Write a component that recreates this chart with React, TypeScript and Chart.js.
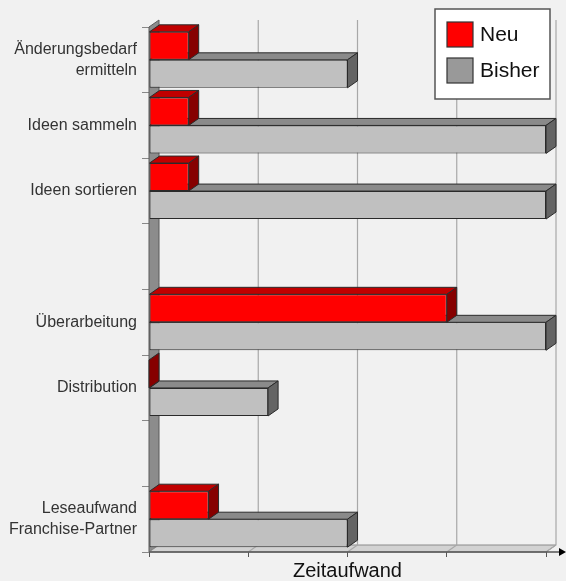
import React, { useEffect, useRef } from "react";
import { Chart, registerables } from "chart.js";

Chart.register(...registerables);

const categories: (string | string[])[] = [
  ["Änderungsbedarf", "ermitteln"],
  "Ideen sammeln",
  "Ideen sortieren",
  "",
  "Überarbeitung",
  "Distribution",
  "",
  ["Leseaufwand", "Franchise-Partner"],
];
const neuValues: (number | null)[] = [0.4, 0.4, 0.4, null, 3.0, 0, null, 0.6];
const bisherValues: (number | null)[] = [2.0, 4.0, 4.0, null, 4.0, 1.2, null, 2.0];
const seriesLabels = ["Neu", "Bisher"];
const axisTitle = "Zeitaufwand";
const xMin = 0;
const xMax = 4;

const FONT = "'Liberation Sans', Arial, sans-serif";
const DX = 10;
const DY = 7;

const frontColors = ["#ff0000", "#c0c0c0"];
const topColors = ["#c00000", "#8a8a8a"];
const sideColors = ["#860000", "#646464"];
const legendColors = ["#ff0000", "#999999"];

function poly(ctx: CanvasRenderingContext2D, pts: number[][], fill: string, stroke: string, lw = 1) {
  ctx.beginPath();
  ctx.moveTo(pts[0][0], pts[0][1]);
  for (let i = 1; i < pts.length; i++) ctx.lineTo(pts[i][0], pts[i][1]);
  ctx.closePath();
  ctx.fillStyle = fill;
  ctx.fill();
  ctx.lineWidth = lw;
  ctx.strokeStyle = stroke;
  ctx.stroke();
}

const threeD = {
  id: "threeD",
  beforeDatasetsDraw(chart: any) {
    const ctx: CanvasRenderingContext2D = chart.ctx;
    const { left, right, top, bottom } = chart.chartArea;
    const xs = chart.scales.x;
    ctx.save();
    // left wall
    poly(ctx, [[left, top], [left + DX, top - DY], [left + DX, bottom - DY], [left, bottom]], "#8c8c8c", "#5a5a5a");
    // floor
    poly(ctx, [[left, bottom], [left + DX, bottom - DY], [right + DX, bottom - DY], [right, bottom]], "#d2d2d2", "#8a8a8a");
    // back-wall grid lines
    ctx.strokeStyle = "#a8a8a8";
    ctx.lineWidth = 1.2;
    for (let v = xMin + 1; v <= xMax; v++) {
      const x = xs.getPixelForValue(v);
      ctx.beginPath();
      ctx.moveTo(x + DX, top - DY);
      ctx.lineTo(x + DX, bottom - DY);
      ctx.lineTo(x, bottom);
      ctx.stroke();
    }
    // floor front line & arrow
    ctx.strokeStyle = "#555";
    ctx.lineWidth = 1.5;
    ctx.beginPath();
    ctx.moveTo(left, bottom);
    ctx.lineTo(chart.width - 2, bottom);
    ctx.stroke();
    ctx.fillStyle = "#000";
    ctx.beginPath();
    ctx.moveTo(chart.width - 7, bottom - 4);
    ctx.lineTo(chart.width, bottom);
    ctx.lineTo(chart.width - 7, bottom + 4);
    ctx.closePath();
    ctx.fill();
    // bar depth faces: Bisher first, then Neu
    for (const di of [1, 0]) {
      const meta = chart.getDatasetMeta(di);
      meta.data.forEach((bar: any, i: number) => {
        const val = chart.data.datasets[di].data[i];
        if (val === null || val === undefined) return;
        const p = bar.getProps(["x", "y", "base", "height"], true);
        const t = p.y - p.height / 2;
        const b = p.y + p.height / 2;
        const x0 = p.base;
        const x1 = p.x;
        if (x1 - x0 > 0.5) {
          poly(ctx, [[x0, t], [x0 + DX, t - DY], [x1 + DX, t - DY], [x1, t]], topColors[di], "#2a2a2a");
        }
        poly(ctx, [[x1, t], [x1 + DX, t - DY], [x1 + DX, b - DY], [x1, b]], sideColors[di], "#2a2a2a");
      });
    }
    ctx.restore();
  },
  afterDraw(chart: any) {
    const ctx: CanvasRenderingContext2D = chart.ctx;
    const { right, top } = chart.chartArea;
    const bx = right - 111;
    const by = top - 18;
    ctx.save();
    ctx.fillStyle = "#ffffff";
    ctx.fillRect(bx, by, 115, 90);
    ctx.strokeStyle = "#555";
    ctx.lineWidth = 1.5;
    ctx.strokeRect(bx, by, 115, 90);
    ctx.font = `21px ${FONT}`;
    ctx.textBaseline = "middle";
    ctx.textAlign = "left";
    seriesLabels.forEach((lab, i) => {
      const sy = by + 13 + i * 36;
      ctx.fillStyle = legendColors[i];
      ctx.fillRect(bx + 12, sy, 26, 25);
      ctx.strokeStyle = "#333";
      ctx.lineWidth = 1.2;
      ctx.strokeRect(bx + 12, sy, 26, 25);
      ctx.fillStyle = "#111";
      ctx.fillText(lab, bx + 45, sy + 13);
    });
    ctx.restore();
  },
};

export default function App() {
  const ref = useRef<HTMLCanvasElement>(null);
  useEffect(() => {
    if (!ref.current) return;
    const chart = new Chart(ref.current, {
      type: "bar",
      data: {
        labels: categories,
        datasets: [
          {
            label: seriesLabels[0],
            data: neuValues,
            backgroundColor: frontColors[0],
            borderColor: "#2a2a2a",
            borderWidth: 1,
            borderSkipped: false,
            barPercentage: 1,
            categoryPercentage: 0.853,
          },
          {
            label: seriesLabels[1],
            data: bisherValues,
            backgroundColor: frontColors[1],
            borderColor: "#2a2a2a",
            borderWidth: 1,
            borderSkipped: false,
            barPercentage: 1,
            categoryPercentage: 0.853,
          },
        ],
      },
      options: {
        indexAxis: "y",
        responsive: false,
        animation: false,
        layout: { padding: { top: 27, right: 20, left: 0, bottom: 0 } },
        plugins: { legend: { display: false }, tooltip: { enabled: false } },
        scales: {
          y: {
            type: "category",
            offset: true,
            border: { display: false },
            grid: { display: true, drawOnChartArea: false, drawTicks: true, tickLength: 7, color: "#888", offset: true },
            ticks: { color: "#333", padding: 5, font: { family: FONT, size: 16, lineHeight: 1.3 } },
            afterFit: (s: any) => { s.width = 149; },
          },
          x: {
            type: "linear",
            min: xMin,
            max: xMax,
            border: { display: false },
            grid: { display: true, drawOnChartArea: false, drawTicks: true, tickLength: 5, color: "#555" },
            ticks: { stepSize: 1, callback: () => "" },
            title: { display: true, text: axisTitle, color: "#111", font: { family: FONT, size: 20, lineHeight: 1 }, padding: { top: 0, bottom: 0 } },
            afterFit: (s: any) => { s.height = 29; },
          },
        },
      } as any,
      plugins: [threeD],
    });
    return () => chart.destroy();
  }, []);
  return (
    <div style={{ position: "absolute", left: 0, top: 0, width: 566, height: 581, background: "#f1f1f1" }}>
      <canvas ref={ref} width={566} height={581} style={{ display: "block" }} />
    </div>
  );
}
